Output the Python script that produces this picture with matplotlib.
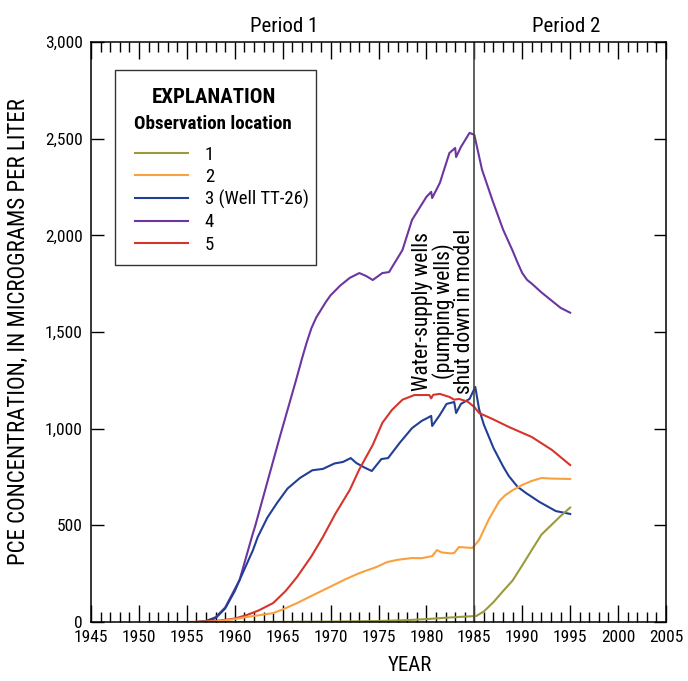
import matplotlib
matplotlib.use("Agg")
import matplotlib.pyplot as plt
from matplotlib.patches import Rectangle
from matplotlib.lines import Line2D
from matplotlib.ticker import MultipleLocator, FuncFormatter

plt.rcParams["font.family"] = ["Roboto Condensed", "Liberation Sans Narrow",
                               "Roboto", "DejaVu Sans"]

# ---- simulated PCE concentrations, by observation location ----
loc1_years = [1951, 1960, 1970, 1975, 1978, 1980, 1982, 1984, 1985.2, 1986, 1987,
              1988, 1989, 1990, 1991, 1992, 1993, 1994, 1995]
loc1_vals = [0, 0, 2, 5, 10, 15, 22, 28, 31, 55, 103, 160, 215, 293, 373, 452,
             500, 548, 592]

loc2_years = [1951, 1955, 1958, 1960, 1961.25, 1962.5, 1964, 1965, 1966.5, 1968,
              1969.9, 1971.5, 1973, 1974.8, 1975.9, 1977, 1978.5, 1979.5, 1980.6,
              1981.1, 1981.6, 1982.5, 1982.9, 1983.4, 1984.2, 1984.8, 1985.5,
              1986.5, 1987.6, 1988.2, 1989, 1990, 1991, 1992, 1993, 1995]
loc2_vals = [0, 0, 3, 15, 26, 35, 46, 65, 98, 135, 181, 220, 253, 285, 310, 322,
             331, 330, 341, 372, 360, 355, 357, 388, 385, 383, 424, 530, 625, 655,
             682, 709, 730, 745, 742, 740]

loc3_years = [1951, 1956, 1957, 1958, 1959, 1960, 1960.5, 1961.9, 1962.4, 1963.4,
              1964.4, 1965.5, 1966.8, 1968.1, 1969.2, 1970.4, 1971.3, 1972.1,
              1972.7, 1973.5, 1974.3, 1975.3, 1976, 1977.2, 1978.5, 1979.5, 1980.5,
              1980.6, 1981.4, 1982.1, 1982.9, 1983.1, 1983.6, 1984.5, 1985.1,
              1985.5, 1986, 1987, 1988, 1988.6, 1989.5, 1990.4, 1991.8, 1993.5, 1995]
loc3_vals = [0, 0, 5, 20, 70, 160, 217, 372, 440, 540, 615, 690, 745, 785, 792,
             820, 828, 848, 822, 800, 781, 843, 848, 926, 1003, 1040, 1066, 1014,
             1071, 1128, 1138, 1081, 1128, 1154, 1216, 1100, 1020, 900, 805, 755,
             700, 667, 621, 574, 559]

loc4_years = [1951, 1956, 1957, 1958, 1959, 1960, 1960.5, 1961.9, 1962.1, 1964.7,
              1966.4, 1967, 1967.5, 1968, 1968.5, 1969, 1969.5, 1970, 1971, 1972,
              1973, 1973.7, 1974.4, 1975.4, 1976.1, 1977.5, 1978.5, 1980, 1980.5,
              1980.6, 1981.4, 1982.4, 1983, 1983.1, 1983.6, 1984.5, 1985, 1985.4,
              1985.8, 1986.9, 1988, 1989, 1989.5, 1990, 1990.5, 1991, 1992, 1993,
              1994, 1995]
loc4_vals = [0, 0, 5, 25, 75, 170, 217, 460, 491, 957, 1252, 1360, 1445, 1520,
             1575, 1615, 1655, 1690, 1740, 1780, 1805, 1790, 1769, 1805, 1810, 1924,
             2080, 2199, 2225, 2193, 2271, 2426, 2452, 2405, 2457, 2530, 2520, 2430,
             2340, 2180, 2030, 1920, 1860, 1805, 1770, 1750, 1705, 1665, 1625, 1600]

loc5_years = [1951, 1956, 1958, 1960, 1961.25, 1962.5, 1964, 1965.3, 1966.5, 1968,
              1969.2, 1970.5, 1972, 1973, 1974.4, 1975.4, 1976.4, 1977.5, 1978.75,
              1980.3, 1980.5, 1980.7, 1981.4, 1982.4, 1982.9, 1983.4, 1984.3, 1985,
              1985.5, 1986.9, 1988.6, 1991, 1993.1, 1995]
loc5_vals = [0, 0, 5, 18, 36, 60, 98, 160, 233, 340, 440, 560, 683, 790, 916,
             1030, 1097, 1150, 1174, 1174, 1157, 1175, 1180, 1164, 1150, 1154, 1140,
             1112, 1081, 1050, 1009, 957, 890, 812]

series_labels = ["1", "2", "3 (Well TT-26)", "4", "5"]
series_colors = ["#9b9b3c", "#f9a13f", "#213f93", "#6b36a0", "#d5352a"]

shutdown_year = 1985

# ---- figure ----
fig = plt.figure(figsize=(6.88, 6.81), dpi=100)
ax = fig.add_axes([0.1323, 0.0866, 0.8357, 0.8517])

all_series = [(loc1_years, loc1_vals), (loc2_years, loc2_vals),
              (loc3_years, loc3_vals), (loc4_years, loc4_vals),
              (loc5_years, loc5_vals)]
# draw in an order so the olive line sits on top near zero
for i in [3, 2, 4, 1, 0]:
    yrs, vals = all_series[i]
    ax.plot(yrs, vals, color=series_colors[i], lw=1.5, solid_joinstyle="round")

ax.axvline(shutdown_year, color="#444444", lw=1.2)

ax.set_xlim(1945, 2005)
ax.set_ylim(0, 3000)
ax.xaxis.set_major_locator(MultipleLocator(5))
ax.xaxis.set_minor_locator(MultipleLocator(1))
ax.yaxis.set_major_locator(MultipleLocator(500))
ax.yaxis.set_major_formatter(FuncFormatter(lambda v, p: f"{int(v):,}"))

ax.tick_params(axis="x", which="major", direction="in", length=12, width=1,
               top=True, labelsize=12.5, pad=6)
ax.tick_params(axis="x", which="minor", direction="in", length=7, width=1, top=True)
ax.tick_params(axis="y", which="major", direction="in", length=9, width=1,
               right=True, labelsize=12.5, pad=6)
for s in ax.spines.values():
    s.set_linewidth(1.1)

ax.set_xlabel("YEAR", fontsize=15)
ax.xaxis.set_label_coords(0.555, -0.058)
ax.set_ylabel("PCE CONCENTRATION, IN MICROGRAMS PER LITER", fontsize=16.5)
ax.yaxis.set_label_coords(-0.106, 0.5)

# period labels above the plot
ax.text(1965.2, 3030, "Period 1", ha="center", va="bottom", fontsize=15)
ax.text(1994.6, 3030, "Period 2", ha="center", va="bottom", fontsize=15)

ax.text(1981.8, 1180, "Water-supply wells\n(pumping wells)\nshut down in model",
        rotation=90, ha="center", va="bottom", multialignment="center",
        fontsize=15.5, linespacing=0.95)

# explanation box
ax.add_patch(Rectangle((0.0417, 0.6155), 0.349, 0.336, transform=ax.transAxes,
                       fill=False, edgecolor="#333333", lw=1.0))
ax.text(0.214, 0.905, "EXPLANATION", transform=ax.transAxes, ha="center",
        va="center", fontsize=15, fontweight="bold")
ax.text(0.212, 0.859, "Observation location", transform=ax.transAxes,
        ha="center", va="center", fontsize=13.7, fontweight="bold")
handles = [Line2D([], [], color=c, lw=1.5) for c in series_colors]
ax.legend(handles, series_labels, loc="upper left", bbox_to_anchor=(0.077, 0.821),
          frameon=False, fontsize=13.5, handlelength=2.8, handletextpad=0.9,
          labelspacing=0.22, borderpad=0, borderaxespad=0)

fig.savefig("out.png", dpi=100)
